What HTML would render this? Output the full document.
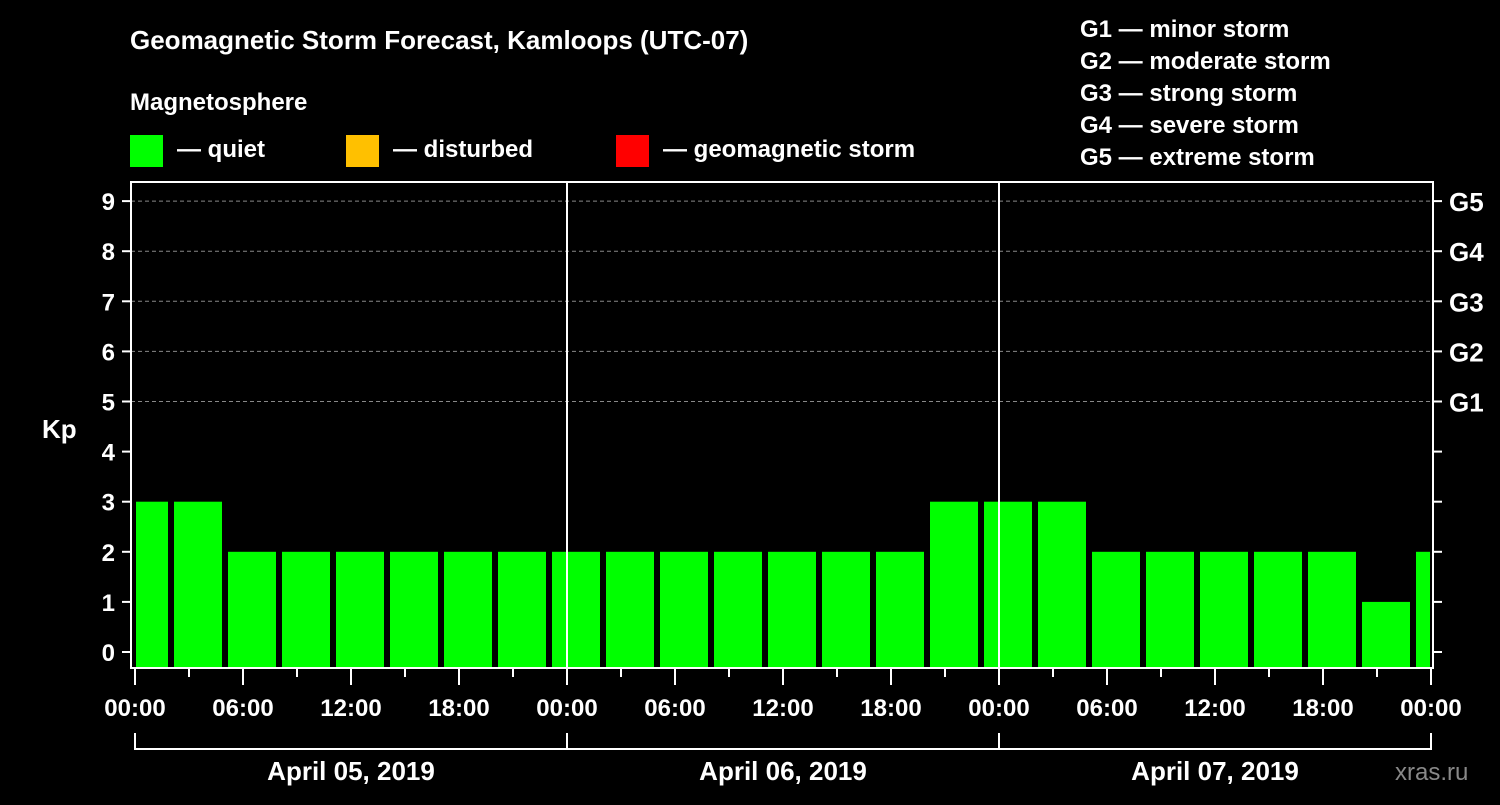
<!DOCTYPE html>
<html><head><meta charset="utf-8"><style>
body{margin:0;background:#000;}
svg text{font-family:"Liberation Sans",sans-serif;font-weight:bold;fill:#fff;}
</style></head><body>
<svg id="c" width="1500" height="800" xmlns="http://www.w3.org/2000/svg">
<rect width="1500" height="800" fill="#000"/>
<text x="130" y="49" font-size="26">Geomagnetic Storm Forecast, Kamloops (UTC-07)</text>
<text x="130" y="110" font-size="24">Magnetosphere</text>
<rect x="130" y="135" width="33" height="32" fill="#00ff00"/>
<text x="177" y="157" font-size="24">— quiet</text>
<rect x="346" y="135" width="33" height="32" fill="#ffc000"/>
<text x="393" y="157" font-size="24">— disturbed</text>
<rect x="616" y="135" width="33" height="32" fill="#ff0000"/>
<text x="663" y="157" font-size="24">— geomagnetic storm</text>
<g font-size="24">
<text x="1080" y="37">G1 — minor storm</text>
<text x="1080" y="69">G2 — moderate storm</text>
<text x="1080" y="101">G3 — strong storm</text>
<text x="1080" y="133">G4 — severe storm</text>
<text x="1080" y="165">G5 — extreme storm</text>
</g>
<text x="42" y="438" font-size="26">Kp</text>
<text x="1395" y="780" font-size="24" fill="#888" style="fill:#888;font-weight:normal">xras.ru</text>
<g id="plot"></g>
</svg>
<script>
const kpValues=[3,3,2,2,2,2,2,2,2,2,2,2,2,2,2,3,3,3,2,2,2,2,2,1,2];
const slotStartHours=[-1,2,5,8,11,14,17,20,23,26,29,32,35,38,41,44,47,50,53,56,59,62,65,68,71];
const yTicks=[0,1,2,3,4,5,6,7,8,9];
const gLabels=["G1","G2","G3","G4","G5"];
const gLevels=[5,6,7,8,9];
const xTickLabels=["00:00","06:00","12:00","18:00","00:00","06:00","12:00","18:00","00:00","06:00","12:00","18:00","00:00"];
const dayLabels=["April 05, 2019","April 06, 2019","April 07, 2019"];
const NS="http://www.w3.org/2000/svg";
const g=document.getElementById('plot');
const L=131,R=1433,T=182,B=668;
const x0=135,pxH=18;
const X=h=>x0+h*pxH;
const Y=v=>652-v*50.1;
function mk(t,a,p){const e=document.createElementNS(NS,t);for(const k in a)e.setAttribute(k,a[k]);(p||g).appendChild(e);return e;}
// grid
gLevels.forEach(v=>{const e=mk('line',{x1:L,x2:R,y1:Y(v),y2:Y(v),stroke:'#888','stroke-dasharray':'4,3','stroke-width':1});

});
// bars
kpValues.forEach((v,i)=>{let a=X(slotStartHours[i])+3,b=X(slotStartHours[i]+3)-3;a=Math.max(a,X(0)+1);b=Math.min(b,X(72)-1);
const r=mk('rect',{x:a,y:Y(v),width:b-a,height:667-Y(v),fill:'#00ff00'});

});
// day separators
[24,48].forEach(h=>{const e=mk('line',{x1:X(h),x2:X(h),y1:T,y2:B,stroke:'#fff','stroke-width':2});

});
// frame
const f=mk('rect',{x:L,y:T,width:R-L,height:B-T,fill:'none',stroke:'#fff','stroke-width':2});


// y ticks
yTicks.forEach(v=>{mk('line',{x1:L-9,x2:L,y1:Y(v),y2:Y(v),stroke:'#fff','stroke-width':2});
mk('line',{x1:R,x2:R+9,y1:Y(v),y2:Y(v),stroke:'#fff','stroke-width':2});
const t=mk('text',{x:L-16,y:Y(v)+9,'font-size':24,'text-anchor':'end'});t.textContent=v;

});
gLabels.forEach((s,i)=>{const t=mk('text',{x:1449,y:Y(gLevels[i])+10,'font-size':26});t.textContent=s;

});
// x ticks
for(let h=0;h<=72;h+=3){const maj=h%6==0;mk('line',{x1:X(h),x2:X(h),y1:B,y2:B+(maj?17:9),stroke:'#fff','stroke-width':2});}
xTickLabels.forEach((s,i)=>{const t=mk('text',{x:X(i*6),y:716,'font-size':24,'text-anchor':'middle'});t.textContent=s;

});
// day brackets
mk('path',{d:`M${X(0)},733V749H${X(72)}V733M${X(24)},733V749M${X(48)},733V749`,fill:'none',stroke:'#fff','stroke-width':2});
dayLabels.forEach((s,i)=>{const t=mk('text',{x:X(i*24+12),y:780,'font-size':26,'text-anchor':'middle'});t.textContent=s;

});
</script>
</body></html>
